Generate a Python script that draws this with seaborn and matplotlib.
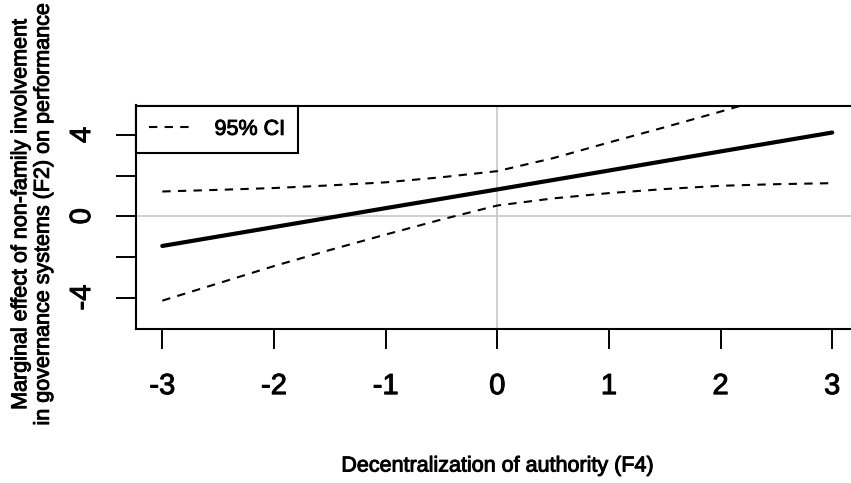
import numpy as np
import pandas as pd
import matplotlib
matplotlib.use("Agg")
import matplotlib.pyplot as plt
import matplotlib.patheffects as pe
import seaborn as sns
from matplotlib.lines import Line2D

# ---- data ----
x_est = [-3, -2, -1, 0, 1, 2, 3]
effect = [-1.46, -0.53, 0.40, 1.32, 2.25, 3.19, 4.12]

x_ci = [-3, -2.5, -2, -1.5, -1, -0.5, 0, 0.5, 1, 1.5, 2, 2.5, 3]
ci_upper = [1.22, 1.30, 1.39, 1.52, 1.67, 1.92, 2.22, 2.86, 3.63, 4.38, 5.15, 5.95, 6.75]
ci_lower = [-4.15, -3.30, -2.45, -1.66, -0.90, -0.16, 0.53, 0.88, 1.14, 1.34, 1.50, 1.58, 1.63]

x_ticks = [-3, -2, -1, 0, 1, 2, 3]
y_ticks = [-4, -2, 0, 2, 4]
y_ticklabels = ["-4", "", "0", "", "4"]

xlabel = "Decentralization of authority (F4)"
ylabel = "Marginal effect of non-family involvement\nin governance systems (F2) on performance"
legend_label = "95% CI"

# ---- styling ----
sns.set_style("white")
plt.rcParams["font.family"] = ["Liberation Sans", "DejaVu Sans"]
for k in ["text.color", "axes.labelcolor", "xtick.color", "ytick.color"]:
    plt.rcParams[k] = "black"

heavy = [pe.withStroke(linewidth=0.7, foreground="black")]

W, H = 851, 483
fig = plt.figure(figsize=(W / 100, H / 100), dpi=100)
left_px, right_px, top_px, bottom_px = 135.5, 859, 105.5, 328.5
ax = fig.add_axes([left_px / W, 1 - bottom_px / H,
                   (right_px - left_px) / W, (bottom_px - top_px) / H])

ax.axhline(0, color="#cccccc", lw=1.3, zorder=1)
ax.axvline(0, color="#cccccc", lw=1.3, zorder=1)

df_est = pd.DataFrame({"x": x_est, "y": effect})
df_up = pd.DataFrame({"x": x_ci, "y": ci_upper})
df_lo = pd.DataFrame({"x": x_ci, "y": ci_lower})

dash = (4.0, 3.5)
sns.lineplot(data=df_est, x="x", y="y", ax=ax, color="black", lw=3.0, zorder=3)
sns.lineplot(data=df_up, x="x", y="y", ax=ax, color="black", lw=1.5, zorder=2)
ax.lines[-1].set_dashes(dash)
sns.lineplot(data=df_lo, x="x", y="y", ax=ax, color="black", lw=1.5, zorder=2)
ax.lines[-1].set_dashes(dash)

ax.set_xlim(-3.24, 3.24)
ax.set_ylim(-5.52, 5.45)
ax.set_xticks(x_ticks)
ax.set_xticklabels([str(v) for v in x_ticks])
ax.set_yticks(y_ticks)
ax.set_yticklabels(y_ticklabels, rotation=90, va="center")
ax.tick_params(axis="both", which="both", direction="out", length=14.4, width=1.4,
               color="black", labelsize=21, left=True, bottom=True)
ax.tick_params(axis="x", pad=17)
ax.tick_params(axis="y", pad=14)
for lab in ax.get_xticklabels() + ax.get_yticklabels():
    lab.set_path_effects(heavy)
ax.set_xlabel("")
ax.set_ylabel("")
for s in ax.spines.values():
    s.set_visible(True)
    s.set_color("black")
    s.set_linewidth(1.5)

handle = Line2D([], [], color="black", lw=1.5, dashes=dash)
leg = ax.legend([handle], [legend_label], loc="upper left", borderaxespad=0,
                fancybox=False, edgecolor="black", framealpha=1,
                handlelength=2.0, handletextpad=1.05, borderpad=0.62,
                prop={"size": 15.5})
leg.get_frame().set_linewidth(1.5)
for t in leg.get_texts():
    t.set_path_effects(heavy)

fig.text(497 / W, 1 - 466 / H, xlabel, ha="center", va="center", fontsize=15.5,
         path_effects=heavy)
fig.text(32 / W, 1 - 215 / H, ylabel, ha="center", va="center", rotation=90,
         fontsize=15.5, linespacing=1.1, path_effects=heavy)

fig.savefig("out.png", dpi=100)
